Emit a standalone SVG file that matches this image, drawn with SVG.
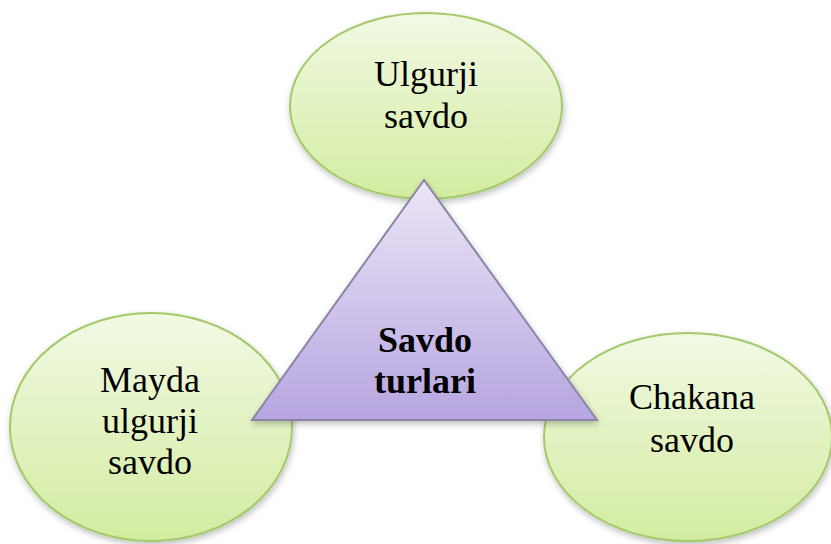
<svg xmlns="http://www.w3.org/2000/svg" width="831" height="544" viewBox="0 0 831 544">
<defs>
<linearGradient id="gGreen" x1="0" y1="0" x2="0" y2="1">
<stop offset="0" stop-color="#f2f9e4"/>
<stop offset="1" stop-color="#d3eca0"/>
</linearGradient>
<linearGradient id="gPurple" x1="0" y1="0" x2="0" y2="1">
<stop offset="0" stop-color="#ece6f7"/>
<stop offset="1" stop-color="#b6a5e0"/>
</linearGradient>
<filter id="shadow" x="-20%" y="-20%" width="140%" height="140%">
<feGaussianBlur in="SourceAlpha" stdDeviation="3"/>
<feOffset dx="1" dy="3" result="b"/>
<feFlood flood-color="#000" flood-opacity="0.25"/>
<feComposite in2="b" operator="in"/>
<feMerge><feMergeNode/><feMergeNode in="SourceGraphic"/></feMerge>
</filter>
</defs>
<style>
.ell{fill:url(#gGreen);stroke:#a3ca6a;stroke-width:2;filter:url(#shadow)}
.tri{fill:url(#gPurple);stroke:#8c84a6;stroke-width:2;filter:url(#shadow)}
.t{font-family:"Liberation Serif","Times New Roman",serif;font-size:36px;fill:#000;text-anchor:middle}
.b{font-weight:bold}
</style>
<rect width="831" height="544" fill="#fff"/>
<g id="connectors"></g>
<g id="node-ulgurji">
<ellipse class="ell" cx="426" cy="106" rx="136" ry="93"/>
<text class="t" x="426" y="86">Ulgurji</text>
<text class="t" x="426" y="128">savdo</text>
</g>
<g id="node-mayda">
<ellipse class="ell" cx="151" cy="427" rx="141" ry="114"/>
<text class="t" x="150" y="392">Mayda</text>
<text class="t" x="150" y="433">ulgurji</text>
<text class="t" x="150" y="474">savdo</text>
</g>
<g id="node-chakana">
<ellipse class="ell" cx="688" cy="437" rx="144" ry="104"/>
<text class="t" x="692" y="409">Chakana</text>
<text class="t" x="692" y="452">savdo</text>
</g>
<g id="node-center">
<polygon class="tri" points="424,180 252,420 597,420"/>
<text class="t b" x="425" y="352">Savdo</text>
<text class="t b" x="425" y="393">turlari</text>
</g>
</svg>
